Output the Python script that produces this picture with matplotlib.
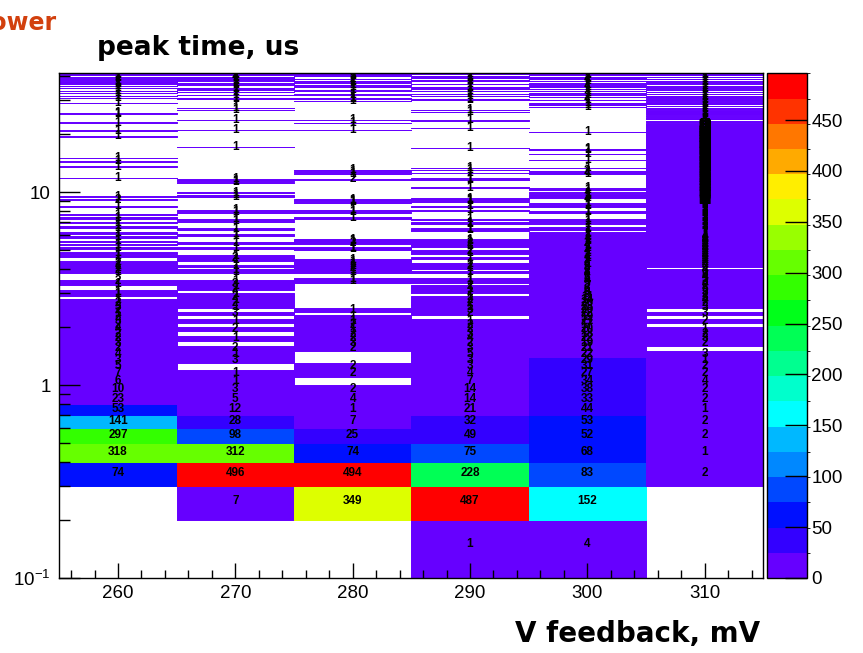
import numpy as np
import matplotlib.pyplot as plt
from matplotlib.colors import ListedColormap, BoundaryNorm
from matplotlib.ticker import FixedLocator, FixedFormatter, MultipleLocator, LogLocator, NullFormatter

plt.rcParams['font.family'] = ['Liberation Sans', 'DejaVu Sans']
plt.rcParams['mathtext.fontset'] = 'custom'
plt.rcParams['mathtext.rm'] = 'Liberation Sans'

# V feedback bins (mV), 10 mV wide
vfb = [260, 270, 280, 290, 300, 310]

# counts per 0.1 us bin, starting at the 0.1-0.2 us bin
low_260 = [0, 0, 74, 318, 297, 141, 53, 23, 10,
           6, 7, 5, 3, 4, 2, 3, 2, 2, 4,
           2, 3, 2, 1, 2, 3, 2, 1, 0, 1,
           1, 0, 0, 1, 2, 0, 0, 0, 1, 2,
           1, 1, 2, 1]
low_270 = [0, 7, 496, 312, 98, 28, 12, 5, 3,
           1, 1, 0, 3, 1, 2, 0, 1, 0, 2,
           0, 1, 0, 3, 0, 1, 2, 1, 2, 1,
           0, 2, 1, 3, 1]
low_280 = [0, 349, 494, 74, 25, 7, 1, 4, 2,
           0, 2, 2, 0, 0, 2, 3, 2, 2, 1,
           2, 1, 1, 0, 1, 0, 0, 0, 0, 0,
           0, 0, 0, 0, 1, 1, 0, 0, 1, 1,
           2, 1, 1, 1]
low_290 = [1, 487, 228, 75, 49, 32, 21, 14, 14,
           7, 4, 3, 3, 5, 3, 2, 4, 3, 2,
           2, 1, 0, 2, 3, 1, 2, 2, 1, 0,
           2, 1, 2, 0, 1, 1, 0, 0, 1, 0,
           1, 2, 1]
low_300 = [4, 152, 83, 68, 52, 53, 44, 33, 38,
           34, 27, 31, 29, 22, 21, 19, 22, 18, 20,
           17, 21, 19, 22, 20, 23, 20, 14, 11, 9,
           8, 6, 7, 5, 4, 5, 3, 4, 3, 2,
           3, 2, 1, 2, 2, 1, 1, 2, 1, 1,
           2, 1, 1, 1, 2, 1, 1, 1, 1, 1,
           1, 1]
low_310 = [0, 0, 2, 1, 2, 2, 1, 2, 2,
           4, 2, 2, 1, 3, 0, 2, 3, 2, 1,
           0, 2, 0, 3, 0, 3, 2, 4, 3, 2,
           3, 5, 2, 4, 3, 5, 4, 3, 6, 4,
           0]

# isolated filled bins higher up: (bin low edge in us, count)
hits_260 = [(4.6, 1), (4.8, 1), (5.1, 1), (5.3, 1), (5.5, 1), (5.8, 1), (6.1, 1),
            (6.5, 1), (6.6, 1), (6.9, 1), (7.3, 1), (7.6, 1), (8.4, 1), (9.1, 2),
            (9.4, 1), (11.8, 1), (13.5, 1), (14.4, 1), (15.0, 1), (19.4, 1),
            (20.8, 1), (22.9, 1), (25.5, 1), (25.6, 1), (29.0, 1), (30.6, 1),
            (31.5, 1), (32.5, 1), (33.4, 1), (34.7, 1), (35.4, 1), (36.5, 1),
            (36.9, 1), (37.3, 1), (37.8, 1), (38.8, 1), (39.6, 1), (40.4, 1),
            (40.9, 1)]
hits_270 = [(3.8, 1), (3.9, 1), (4.1, 1), (4.4, 1), (4.5, 2), (4.6, 1), (5.1, 1),
            (5.4, 1), (5.9, 1), (6.0, 1), (6.4, 1), (7.0, 1), (7.2, 1), (7.8, 1),
            (8.0, 1), (9.4, 1), (9.6, 1), (9.9, 1), (11.2, 1), (11.4, 1), (11.6, 1),
            (17.1, 1), (21.0, 1), (23.6, 1), (26.6, 1), (27.2, 1), (30.3, 1),
            (30.6, 1), (31.8, 1), (33.0, 1), (34.0, 1), (34.6, 1), (35.8, 1),
            (36.4, 1), (36.9, 1), (37.8, 1), (38.3, 1), (39.0, 1), (39.5, 1),
            (40.3, 2), (40.6, 1), (41.0, 1)]
hits_280 = [(4.4, 1), (5.0, 1), (5.1, 1), (5.4, 2), (5.5, 1), (5.6, 1), (7.3, 1),
            (7.8, 1), (8.0, 1), (8.8, 1), (9.0, 1), (9.1, 1), (11.6, 2), (12.4, 1),
            (12.7, 1), (13.0, 1), (21.0, 1), (22.8, 1), (23.6, 1), (29.5, 1),
            (30.3, 1), (30.8, 1), (32.0, 1), (33.6, 1), (35.2, 1), (35.8, 1),
            (37.0, 1), (37.6, 1), (38.7, 2), (39.8, 1), (40.4, 1), (41.0, 1)]
hits_290 = [(4.5, 1), (4.8, 1), (4.9, 2), (5.2, 1), (5.3, 1), (5.4, 2), (5.5, 1),
            (5.6, 1), (6.3, 1), (6.4, 1), (6.8, 1), (6.9, 1), (7.2, 1), (8.0, 1),
            (8.4, 1), (8.9, 1), (9.1, 1), (9.2, 1), (10.5, 1), (11.5, 1), (11.7, 1),
            (12.5, 1), (13.0, 1), (13.3, 1), (16.9, 1), (21.4, 1), (23.5, 1),
            (25.9, 1), (26.5, 1), (30.0, 1), (30.4, 1), (31.5, 1), (32.3, 1),
            (33.5, 1), (34.4, 1), (35.0, 1), (36.2, 1), (37.5, 1), (38.0, 1),
            (39.0, 1), (39.6, 1), (40.0, 1), (40.8, 1)]
hits_300 = [(6.4, 1), (6.5, 1), (6.8, 1), (7.0, 1), (7.2, 1), (7.8, 1), (7.9, 1),
            (8.4, 1), (8.5, 1), (8.7, 1), (9.3, 1), (9.4, 2), (9.5, 1), (9.6, 1),
            (9.7, 1), (9.9, 1), (10.2, 1), (10.4, 1), (12.4, 1), (12.6, 1),
            (12.8, 2), (13.3, 1), (14.6, 1), (15.7, 1), (16.5, 1), (16.7, 1),
            (20.5, 1), (27.5, 1), (28.3, 1), (28.8, 1), (30.0, 1), (31.0, 2),
            (32.0, 1), (32.7, 1), (33.5, 1), (34.2, 1), (35.0, 1), (35.7, 1),
            (36.5, 2), (37.5, 1), (38.5, 1), (39.0, 1), (39.5, 2), (40.5, 1),
            (41.0, 1)]
hits_310 = [(23.0, 1), (23.4, 1), (23.8, 1), (24.3, 1), (24.9, 1), (25.3, 1),
            (25.7, 1), (26.0, 1), (26.3, 1), (26.8, 1), (27.3, 1), (28.0, 1),
            (28.6, 1), (29.0, 1), (29.4, 1), (30.0, 1), (30.5, 1), (31.0, 1),
            (31.5, 1), (32.2, 1), (32.9, 1), (34.0, 1), (34.8, 1), (35.6, 1),
            (36.5, 1), (37.0, 1), (37.6, 1), (38.5, 1), (39.4, 1), (40.4, 1),
            (41.0, 1)]
# dense stretch at 310 mV: (from us, to us, typical count per bin)
runs_310 = [(4.1, 6.0, 4), (6.0, 9.0, 7), (9.0, 13.0, 12), (13.0, 18.6, 14),
            (18.6, 22.7, 10)]

lows = [low_260, low_270, low_280, low_290, low_300, low_310]
hits = [hits_260, hits_270, hits_280, hits_290, hits_300, hits_310]

nrows = 413  # bins 0.1 .. 41.4 us
H = np.zeros((nrows, len(vfb)))
for c in range(len(vfb)):
    for k, n in enumerate(lows[c]):
        H[k, c] = n
    for y, n in hits[c]:
        H[int(round(y * 10)) - 1, c] = n
for y0, y1, n in runs_310:
    H[int(round(y0 * 10)) - 1:int(round(y1 * 10)) - 1, 5] = n

xedges = np.arange(vfb[0] - 5, vfb[-1] + 6, 10)
yedges = (np.arange(nrows + 1) + 1) / 10.0

colors = ['#6600ff', '#3300ff', '#0010ff', '#0048ff', '#0088ff', '#00b8ff',
          '#00ffff', '#00ffcc', '#00ff90', '#00ff55', '#00ff1a', '#33ff00',
          '#66ff00', '#99ff00', '#ddff00', '#ffee00', '#ffaa00', '#ff7700',
          '#ff3300', '#ff0000']
cmap = ListedColormap(colors)
norm = BoundaryNorm(np.linspace(0, H.max(), 21), cmap.N)

fig = plt.figure(figsize=(8.63, 6.53), dpi=100)
ax = fig.add_axes([59.3 / 863, 75 / 653, 704 / 863, 504.7 / 653])
mesh = ax.pcolormesh(xedges, yedges, np.ma.masked_equal(H, 0), cmap=cmap,
                     norm=norm, antialiased=True, edgecolors='face', linewidth=0.7)
ax.set_yscale('log')
ax.set_xlim(255, 315)
ax.set_ylim(0.1, 41.3)

for c, x in enumerate(vfb):
    for r in range(nrows):
        n = H[r, c]
        if n > 0:
            yc = (yedges[r] + yedges[r + 1]) / 2
            ax.text(x, yc, '%d' % n, ha='center', va='center', fontsize=8.5,
                    fontweight='bold', color='black', clip_on=True)

ax.xaxis.set_major_locator(MultipleLocator(10))
ax.xaxis.set_minor_locator(MultipleLocator(2))
ax.yaxis.set_major_locator(FixedLocator([0.1, 1, 10]))
ax.yaxis.set_major_formatter(FixedFormatter([r'$\mathregular{10^{-1}}$', '1', '10']))
ax.yaxis.set_minor_locator(LogLocator(base=10, subs=np.arange(2, 10)))
ax.yaxis.set_minor_formatter(NullFormatter())
ax.tick_params(axis='x', which='major', direction='in', length=11, width=1,
               labelsize=13.5, pad=5, top=False)
ax.tick_params(axis='x', which='minor', direction='in', length=5.5, width=1, top=False)
ax.tick_params(axis='y', which='major', direction='in', length=15, width=1,
               labelsize=13.5, pad=6, right=False)
ax.tick_params(axis='y', which='minor', direction='in', length=8, width=1, right=False)
for s in ax.spines.values():
    s.set_linewidth(1)

cax = fig.add_axes([767.3 / 863, 75 / 653, 40 / 863, 504.7 / 653])
cb = fig.colorbar(mesh, cax=cax, ticks=np.arange(0, 451, 50))
cb.outline.set_linewidth(1)
cax.tick_params(direction='in', length=16, width=1, labelsize=13.5, pad=3)

fig.text(57 / 863, 1 - 30 / 653, 'Power', ha='right', va='baseline', fontsize=17,
         fontweight='bold', color='#d2400e', family='DejaVu Sans')
fig.text(97 / 863, 1 - 55 / 653, 'peak time, us', ha='left', va='baseline',
         fontsize=19, fontweight='bold', family='DejaVu Sans')
fig.text(760 / 863, 1 - 642 / 653, 'V feedback, mV', ha='right', va='baseline',
         fontsize=20, fontweight='bold', family='DejaVu Sans')

fig.savefig('out.png', dpi=100)
